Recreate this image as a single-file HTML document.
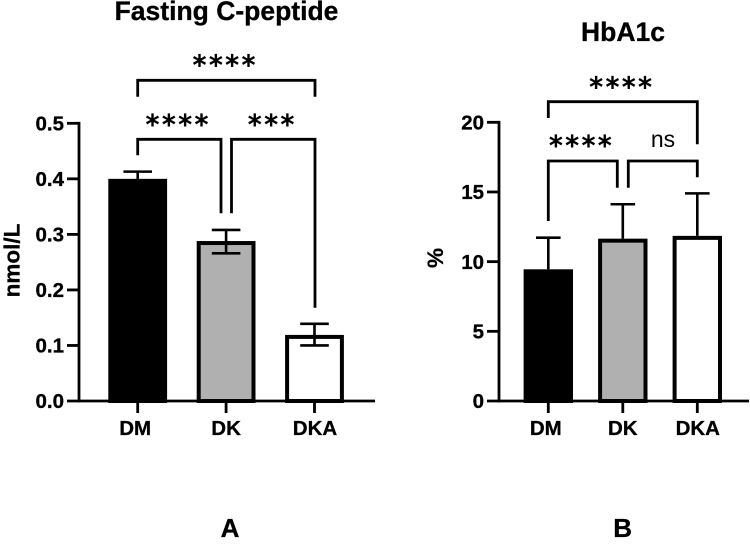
<!DOCTYPE html>
<html>
<head>
<meta charset="utf-8">
<title>Fasting C-peptide and HbA1c</title>
<style>
html,body{margin:0;padding:0;background:#fff;}
svg{display:block;}
text{font-family:"Liberation Sans",Arial,sans-serif;fill:#000;}
.bold{font-weight:700;stroke:#000;stroke-width:0.3px;}
.stars{font-family:"DejaVu Sans",sans-serif;font-size:27px;letter-spacing:2.8px;text-anchor:middle;stroke:#000;stroke-width:0.9px;}
</style>
</head>
<body>
<svg id="chart" width="750" height="545" viewBox="0 0 750 545" xmlns="http://www.w3.org/2000/svg"></svg>
<script>
var categories = ['DM', 'DK', 'DKA'];
var categoryLabelNudge = [-2.5, 0, 0.5];
var barFills = ['#000000', '#b0b0b0', '#ffffff'];

var cpeptideMeans = [0.40, 0.288, 0.119];
var cpeptideUpper = [0.413, 0.308, 0.139];
var cpeptideLower = [0.387, 0.266, 0.10];
var cpeptideTicks = ['0.0', '0.1', '0.2', '0.3', '0.4', '0.5'];

var hba1cMeans = [9.45, 11.65, 11.85];
var hba1cUpper = [11.72, 14.12, 14.9];
var hba1cTicks = ['0', '5', '10', '15', '20'];

var svg = document.getElementById('chart');
var NS = 'http://www.w3.org/2000/svg';

function add(tag, attrs, name, parent) {
  var el = document.createElementNS(NS, tag);
  for (var k in attrs) { el.setAttribute(k, attrs[k]); }
  
  
  (parent || svg).appendChild(el);
  return el;
}
function line(x1, y1, x2, y2, w, name, parent) {
  return add('line', {x1: x1, y1: y1, x2: x2, y2: y2, stroke: '#000', 'stroke-width': w}, name, parent);
}
function label(str, x, y, size, anchor, cls, name, parent) {
  var t = add('text', {x: x, y: y, 'font-size': size, 'text-anchor': anchor, 'class': cls}, name, parent);
  t.textContent = str;
  return t;
}

function drawPanel(cfg) {
  var g = add('g', {}, cfg.key + '-panel');
  var yScale = function (v) { return cfg.y0 - (v / cfg.yMax) * (cfg.y0 - cfg.yTop); };
  var xScale = function (i) { return cfg.xFirst + i * cfg.xStep; };

  categories.forEach(function (c, i) {
    var x = xScale(i), top = yScale(cfg.means[i]);
    var sw = cfg.barStroke;
    add('rect', {
      x: x - cfg.barHalf + sw / 2,
      y: top + sw / 2,
      width: cfg.barHalf * 2 - sw,
      height: Math.max(0, cfg.y0 - top - sw / 2),
      fill: barFills[i],
      stroke: '#000',
      'stroke-width': sw
    }, cfg.key + '-bar-' + c.toLowerCase(), g);
  });

  categories.forEach(function (c, i) {
    var x = xScale(i);
    var up = yScale(cfg.upper[i]);
    var low = cfg.lower ? yScale(cfg.lower[i]) : yScale(cfg.means[i]);
    var n = cfg.key + '-error-bar-' + c.toLowerCase();
    line(x, up, x, low, cfg.errW, n + '-stem', g);
    line(x - cfg.capHalf, up, x + cfg.capHalf, up, cfg.errW, n + '-cap-upper', g);
    if (cfg.lower) { line(x - cfg.capHalf, low, x + cfg.capHalf, low, cfg.errW, n + '-cap-lower', g); }
  });

  line(cfg.axisX, cfg.yTop - 1.4, cfg.axisX, cfg.y0 + 1.4, 2.8, cfg.key + '-y-axis', g);
  line(cfg.axisX - 12, cfg.y0, cfg.xEnd, cfg.y0, 2.8, cfg.key + '-x-axis', g);

  var stepVal = cfg.yMax / (cfg.ticks.length - 1);
  cfg.ticks.forEach(function (t, i) {
    var y = yScale(i * stepVal);
    if (i > 0) { line(cfg.axisX - 12, y, cfg.axisX, y, 2.8, cfg.key + '-y-tick-' + t, g); }
    label(t, cfg.axisX - 15, y + 7.2, 20.5, 'end', 'bold', cfg.key + '-y-tick-label-' + t, g);
  });

  categories.forEach(function (c, i) {
    var x = xScale(i);
    line(x, cfg.y0, x, cfg.y0 + 12, 2.8, cfg.key + '-x-tick-' + c.toLowerCase(), g);
    label(c, x + categoryLabelNudge[i], 435, 20.5, 'middle', 'bold', cfg.key + '-x-tick-label-' + c.toLowerCase(), g);
  });

  label(cfg.title, cfg.titleX, cfg.titleY, 26.5, 'middle', 'bold', cfg.key + '-title', g);
  var yl = label(cfg.yLabel, 0, 0, 22.5, 'middle', 'bold', cfg.key + '-y-axis-title', g);
  yl.setAttribute('transform', 'translate(' + cfg.yLabelX + ' ' + cfg.yLabelY + ') rotate(-90)');
  label(cfg.letter, cfg.letterX, 537, 26, 'middle', 'bold', cfg.key + '-panel-letter', g);
  return g;
}

function bracket(name, xa, xb, y, endA, endB, parent) {
  add('path', {
    d: 'M' + xa + ' ' + endA + 'V' + y + 'H' + xb + 'V' + endB,
    fill: 'none', stroke: '#000', 'stroke-width': 2.8
  }, name, parent);
}
function stars(str, x, y, name, parent) {
  add('text', {x: x, y: y, 'class': 'stars'}, name, parent).textContent = str;
}

var gA = drawPanel({
  key: 'cpeptide', title: 'Fasting C-peptide', titleX: 226.5, titleY: 20,
  yLabel: 'nmol/L', yLabelX: 19.5, yLabelY: 260.5, letter: 'A', letterX: 230,
  y0: 401, yTop: 123.3, yMax: 0.5, axisX: 79, xEnd: 375,
  xFirst: 137.7, xStep: 88.4, barHalf: 29.4, barStroke: 4, capHalf: 14.3, errW: 2.6,
  means: cpeptideMeans, upper: cpeptideUpper, lower: cpeptideLower, ticks: cpeptideTicks
});
bracket('bracket-dm-dka', 137.7, 315, 80.3, 96.7, 96.7, gA);
bracket('bracket-dm-dk', 137.7, 221, 139.3, 155.3, 213.3, gA);
bracket('bracket-dk-dka', 231.5, 315, 139.3, 213.3, 307.7, gA);
stars('****', 225.4, 74, 'significance-dm-dka', gA);
stars('****', 178.4, 133.3, 'significance-dm-dk', gA);
stars('***', 272.5, 133.3, 'significance-dk-dka', gA);

var gB = drawPanel({
  key: 'hba1c', title: 'HbA1c', titleX: 623, titleY: 41,
  yLabel: '%', yLabelX: 443, yLabelY: 258, letter: 'B', letterX: 622.7,
  y0: 401, yTop: 122.3, yMax: 20, axisX: 499, xEnd: 749,
  xFirst: 548.3, xStep: 74.5, barHalf: 24.7, barStroke: 4, capHalf: 12.3, errW: 2.6,
  means: hba1cMeans, upper: hba1cUpper, lower: null, ticks: hba1cTicks
});
bracket('bracket-b-dm-dka', 548.3, 697.3, 101.7, 118, 144.3, gB);
bracket('bracket-b-dm-dk', 548.3, 617.3, 161, 221, 187.7, gB);
bracket('bracket-b-dk-dka', 628.3, 697.3, 161, 187.7, 177.3, gB);
stars('****', 622, 96, 'significance-b-dm-dka', gB);
stars('****', 581.7, 154.7, 'significance-b-dm-dk', gB);
label('ns', 663, 147, 23, 'middle', '', 'significance-b-dk-dka', gB);
</script>
</body>
</html>
